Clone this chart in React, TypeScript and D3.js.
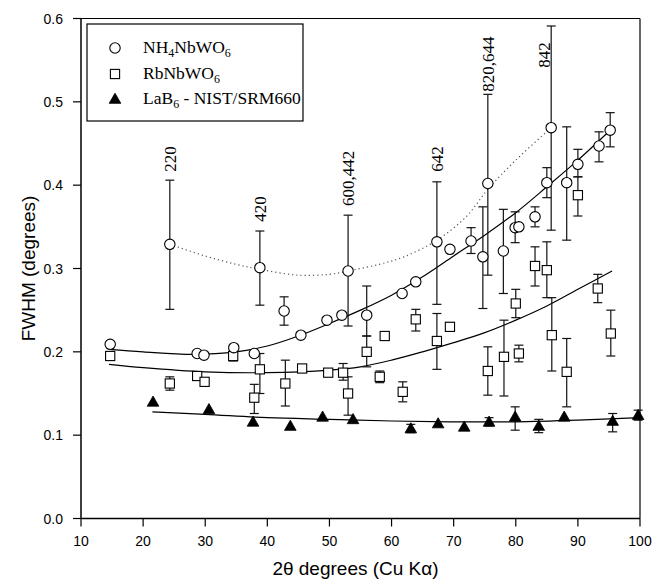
import React from "react";
import * as d3 from "d3";

const W = 657;
const H = 582;

const xTicks = [10, 20, 30, 40, 50, 60, 70, 80, 90, 100];
const yTicks = [0, 0.1, 0.2, 0.3, 0.4, 0.5, 0.6];

type Pt = [number, number, number | null, number | null];

// [2θ, FWHM, lower, upper]
const nh4Points: Pt[] = [
  [14.7, 0.209, null, null],
  [28.7, 0.198, null, null],
  [29.8, 0.196, null, null],
  [34.6, 0.205, null, null],
  [37.9, 0.198, null, null],
  [42.7, 0.249, 0.232, 0.266],
  [45.4, 0.22, null, null],
  [49.6, 0.238, null, null],
  [52.0, 0.244, null, null],
  [56.0, 0.244, 0.219, 0.279],
  [61.7, 0.27, null, null],
  [63.9, 0.284, null, null],
  [69.4, 0.323, null, null],
  [72.8, 0.333, 0.318, 0.349],
  [74.7, 0.314, 0.252, 0.374],
  [78.0, 0.321, 0.27, 0.371],
  [79.9, 0.349, 0.331, 0.368],
  [80.5, 0.35, null, null],
  [83.1, 0.362, 0.35, 0.374],
  [85.0, 0.403, 0.385, 0.421],
  [88.2, 0.403, 0.334, 0.47],
  [90.0, 0.425, 0.41, 0.443],
  [93.4, 0.447, 0.428, 0.464],
  [95.2, 0.466, 0.446, 0.487],
];

const nh4Peaks: Pt[] = [
  [24.3, 0.329, 0.251, 0.406],
  [38.8, 0.301, 0.256, 0.345],
  [53.0, 0.297, 0.231, 0.364],
  [67.3, 0.332, 0.257, 0.404],
  [75.5, 0.402, 0.292, 0.509],
  [85.7, 0.469, 0.346, 0.591],
];
const peakLabels = ["220", "420", "600,442", "642", "820,644", "842"];
const peakLabelX = [24.3, 38.8, 53.0, 67.3, 75.5, 84.6];
const peakLabelY = [0.416, 0.356, 0.375, 0.416, 0.512, 0.541];

const rbPoints: Pt[] = [
  [14.7, 0.195, null, null],
  [24.3, 0.162, 0.154, 0.17],
  [28.7, 0.171, null, null],
  [29.9, 0.164, null, null],
  [34.5, 0.195, 0.189, 0.201],
  [37.9, 0.145, 0.126, 0.161],
  [38.8, 0.179, 0.15, 0.198],
  [42.9, 0.162, 0.135, 0.19],
  [45.6, 0.18, null, null],
  [49.8, 0.175, null, null],
  [52.2, 0.175, 0.166, 0.186],
  [53.0, 0.15, 0.124, 0.17],
  [56.0, 0.2, 0.182, 0.219],
  [58.1, 0.17, 0.163, 0.177],
  [58.9, 0.219, null, null],
  [61.8, 0.152, 0.14, 0.164],
  [63.9, 0.239, 0.225, 0.251],
  [67.3, 0.213, 0.179, 0.246],
  [69.4, 0.23, 0.225, 0.235],
  [75.5, 0.177, 0.148, 0.206],
  [78.1, 0.194, 0.147, 0.238],
  [80.0, 0.258, 0.241, 0.275],
  [80.5, 0.198, 0.188, 0.208],
  [83.1, 0.303, 0.279, 0.326],
  [85.0, 0.298, 0.265, 0.332],
  [85.8, 0.22, 0.177, 0.265],
  [88.2, 0.176, 0.134, 0.216],
  [90.0, 0.388, 0.363, 0.41],
  [93.2, 0.276, 0.259, 0.293],
  [95.3, 0.222, 0.195, 0.25],
];

const laPoints: Pt[] = [
  [21.6, 0.14, null, null],
  [30.6, 0.131, null, null],
  [37.7, 0.116, null, null],
  [43.7, 0.111, null, null],
  [48.9, 0.122, null, null],
  [53.8, 0.119, null, null],
  [63.1, 0.108, 0.103, 0.113],
  [67.5, 0.114, null, null],
  [71.7, 0.11, null, null],
  [75.7, 0.116, 0.111, 0.121],
  [79.9, 0.122, 0.106, 0.134],
  [83.7, 0.111, 0.103, 0.119],
  [87.8, 0.122, null, null],
  [95.6, 0.117, 0.104, 0.126],
  [99.7, 0.124, 0.118, 0.13],
];

// fitted curves
const nh4Fit: [number, number][] = [
  [14.5, 0.203], [20, 0.2], [28, 0.197], [35, 0.2], [40, 0.207], [45, 0.219],
  [50, 0.234], [55, 0.25], [60, 0.268], [65, 0.29], [70, 0.315], [75, 0.34],
  [80, 0.367], [85, 0.398], [90, 0.43], [95.5, 0.468],
];
const rbFit: [number, number][] = [
  [14.5, 0.185], [20, 0.181], [30, 0.176], [40, 0.175], [50, 0.178], [55, 0.182],
  [60, 0.19], [65, 0.2], [70, 0.211], [75, 0.223], [80, 0.238], [85, 0.255],
  [90, 0.275], [95.5, 0.297],
];
const laFit: [number, number][] = [
  [21.5, 0.128], [30, 0.125], [40, 0.121], [50, 0.119], [60, 0.117], [70, 0.116],
  [80, 0.116], [90, 0.118], [100, 0.121],
];
const peakFit: [number, number][] = [
  [24.3, 0.329], [30, 0.315], [35, 0.305], [38.8, 0.299], [45, 0.292], [50, 0.293],
  [53, 0.297], [58, 0.305], [62, 0.314], [67.3, 0.334], [72, 0.362], [75.5, 0.395],
  [80, 0.43], [85.7, 0.469],
];

const legendItems = ["NH4NbWO6", "RbNbWO6", "LaB6 - NIST/SRM660"];

const left = 81, right = 640, top = 18.5, bottom = 518.5;
const x = d3.scaleLinear().domain([10, 100]).range([left, right]);
const y = d3.scaleLinear().domain([0, 0.6]).range([bottom, top]);

const line = d3
  .line<[number, number]>()
  .x((d) => x(d[0]))
  .y((d) => y(d[1]))
  .curve(d3.curveCatmullRom);

const SERIF = "'Liberation Serif', 'Times New Roman', serif";
const SANS = "'Liberation Sans', Arial, Helvetica, sans-serif";

function ErrBars({ pts }: { pts: Pt[] }) {
  return (
    <g stroke="#111" strokeWidth={1.2} fill="none">
      {pts
        .filter((p) => p[2] !== null && p[3] !== null)
        .map((p, i) => {
          const cx = x(p[0]);
          const y1 = y(p[2] as number);
          const y2 = y(p[3] as number);
          return (
            <g key={i}>
              <line x1={cx} x2={cx} y1={y1} y2={y2} />
              <line x1={cx - 4.5} x2={cx + 4.5} y1={y1} y2={y1} />
              <line x1={cx - 4.5} x2={cx + 4.5} y1={y2} y2={y2} />
            </g>
          );
        })}
    </g>
  );
}

function Circle({ cx, cy }: { cx: number; cy: number }) {
  return <circle cx={cx} cy={cy} r={5.2} fill="#fff" stroke="#000" strokeWidth={1.1} />;
}
function Square({ cx, cy }: { cx: number; cy: number }) {
  return <rect x={cx - 4.6} y={cy - 4.6} width={9.2} height={9.2} fill="#fff" stroke="#000" strokeWidth={1.1} />;
}
function Tri({ cx, cy }: { cx: number; cy: number }) {
  const s = 5.8;
  return (
    <path
      d={`M${cx},${cy - s}L${cx + s},${cy + s * 0.75}L${cx - s},${cy + s * 0.75}Z`}
      fill="#000"
      stroke="#000"
      strokeWidth={0.8}
    />
  );
}

function Formula({ text }: { text: string }) {
  const parts: { t: string; sub: boolean }[] = [];
  if (text.startsWith("LaB6")) {
    parts.push({ t: "LaB", sub: false }, { t: "6", sub: true }, { t: text.slice(4), sub: false });
  } else {
    const re = /([A-Za-z]+)(\d*)/g;
    let m;
    while ((m = re.exec(text)) !== null) {
      if (!m[0]) break;
      parts.push({ t: m[1], sub: false });
      if (m[2]) parts.push({ t: m[2], sub: true });
    }
  }
  return (
    <>
      {parts.map((p, i) =>
        p.sub ? (
          <tspan key={i} fontSize={12} dy={4}>
            {p.t}
          </tspan>
        ) : (
          <tspan key={i} dy={i > 0 && parts[i - 1].sub ? -4 : 0}>
            {p.t}
          </tspan>
        )
      )}
    </>
  );
}

export default function App() {
  const legendRows = [48, 74, 99];
  return (
    <svg
      width={W}
      height={H}
      viewBox={`0 0 ${W} ${H}`}
      style={{ position: "absolute", left: 0, top: 0, background: "#fff" }}
    >
      <rect x={0} y={0} width={W} height={H} fill="#fff" />

      {/* frame */}
      <line x1={left} x2={right} y1={top} y2={top} stroke="#000" strokeWidth={1.2} />
      <line x1={right} x2={right} y1={top} y2={bottom} stroke="#000" strokeWidth={1.2} />
      <line x1={left} x2={left} y1={top} y2={bottom} stroke="#000" strokeWidth={1.5} />
      <line x1={left} x2={right} y1={bottom} y2={bottom} stroke="#000" strokeWidth={1.5} />

      {/* x ticks */}
      {xTicks.map((t) => (
        <g key={t}>
          <line x1={x(t)} x2={x(t)} y1={bottom} y2={bottom + 8} stroke="#000" strokeWidth={1.2} />
          <text x={x(t)} y={bottom + 27} textAnchor="middle" fontFamily={SANS} fontSize={14}>
            {t}
          </text>
        </g>
      ))}
      {/* y ticks */}
      {yTicks.map((t) => (
        <g key={t}>
          <line x1={left - 8} x2={left} y1={y(t)} y2={y(t)} stroke="#000" strokeWidth={1.2} />
          <text x={left - 18} y={y(t) + 5} textAnchor="end" fontFamily={SANS} fontSize={14}>
            {t.toFixed(1)}
          </text>
        </g>
      ))}

      <text x={(left + right) / 2 - 5} y={575} textAnchor="middle" fontFamily={SANS} fontSize={19}>
        2θ degrees (Cu Kα)
      </text>
      <text
        transform={`translate(35, ${(top + bottom) / 2}) rotate(-90)`}
        textAnchor="middle"
        fontFamily={SANS}
        fontSize={19}
      >
        FWHM (degrees)
      </text>

      {/* fits */}
      <path d={line(peakFit) || ""} fill="none" stroke="#555" strokeWidth={1.2} strokeDasharray="1.2,3" />
      <path d={line(nh4Fit) || ""} fill="none" stroke="#000" strokeWidth={1.2} />
      <path d={line(rbFit) || ""} fill="none" stroke="#000" strokeWidth={1.2} />
      <path d={line(laFit) || ""} fill="none" stroke="#000" strokeWidth={1.2} />

      {/* error bars */}
      <ErrBars pts={laPoints} />
      <ErrBars pts={rbPoints} />
      <ErrBars pts={nh4Points} />
      <ErrBars pts={nh4Peaks} />

      {/* markers */}
      {laPoints.map((p, i) => (
        <Tri key={"l" + i} cx={x(p[0])} cy={y(p[1])} />
      ))}
      {rbPoints.map((p, i) => (
        <Square key={"r" + i} cx={x(p[0])} cy={y(p[1])} />
      ))}
      {nh4Points.map((p, i) => (
        <Circle key={"n" + i} cx={x(p[0])} cy={y(p[1])} />
      ))}
      {nh4Peaks.map((p, i) => (
        <Circle key={"p" + i} cx={x(p[0])} cy={y(p[1])} />
      ))}

      {/* peak labels */}
      {peakLabels.map((lab, i) => (
        <text
          key={lab}
          transform={`translate(${x(peakLabelX[i])}, ${y(peakLabelY[i])}) rotate(-90)`}
          dy="0.35em"
          textAnchor="start"
          fontFamily={SERIF}
          fontSize={17}
        >
          {lab}
        </text>
      ))}

      {/* legend */}
      <rect x={87} y={24} width={216} height={97} fill="#fff" stroke="#000" strokeWidth={1.2} />
      <Circle cx={115} cy={legendRows[0]} />
      <Square cx={115} cy={legendRows[1]} />
      <Tri cx={115} cy={legendRows[2]} />
      {legendItems.map((t, i) => (
        <text key={t} x={143} y={legendRows[i] + 5} fontFamily={SERIF} fontSize={17.5}>
          <Formula text={t} />
        </text>
      ))}
    </svg>
  );
}
